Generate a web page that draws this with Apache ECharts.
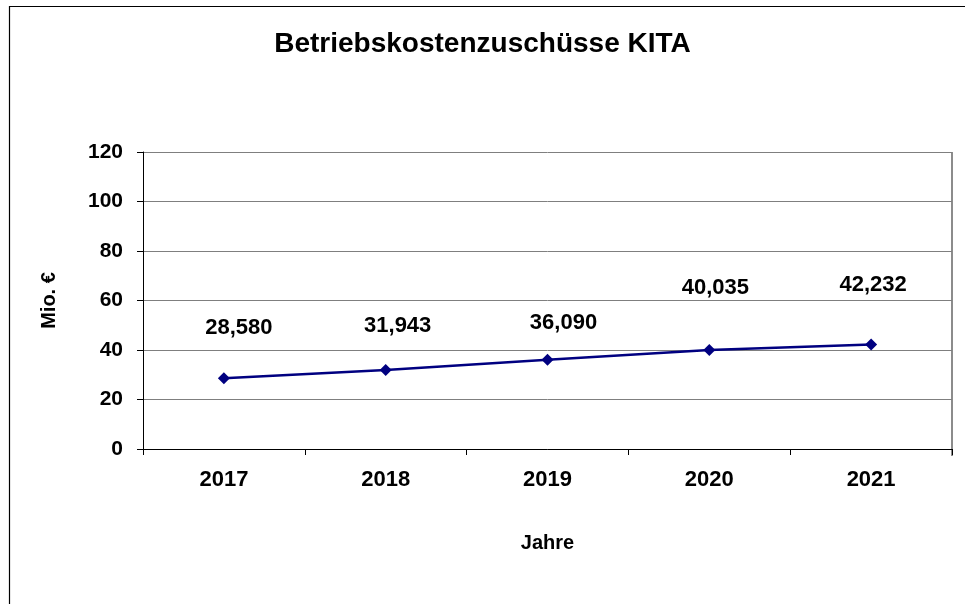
<!DOCTYPE html>
<html>
<head>
<meta charset="utf-8">
<script src="https://cdn.jsdelivr.net/npm/echarts@6/dist/echarts.min.js"></script>
<style>
html,body{margin:0;padding:0;background:#fff;}
#chart{width:965px;height:604px;}
</style>
</head>
<body>
<div id="chart"></div>
<script>
const categories = ['2017', '2018', '2019', '2020', '2021'];
const values = [28.580, 31.943, 36.090, 40.035, 42.232];
const yTicks = [0, 20, 40, 60, 80, 100, 120];
const titleText = 'Betriebskostenzuschüsse KITA';
const xName = 'Jahre';
const yName = 'Mio. €';

const FONT = '"Liberation Sans", Arial, sans-serif';
const labelOffsets = [[15, -50], [12, -44], [16, -37], [6, -62], [2, -60]];

const chart = echarts.init(document.getElementById('chart'), null, {renderer: 'canvas'});
const option = {
  backgroundColor: '#ffffff',
  animation: false,
  title: {
    text: titleText,
    left: 'center',
    top: 25,
    textStyle: {fontFamily: FONT, fontWeight: 'bold', fontSize: 28, color: '#000'}
  },
  graphic: [{
    type: 'rect',
    shape: {x: 9.5, y: 6.5, width: 2000, height: 2000},
    style: {fill: 'none', stroke: '#000', lineWidth: 1.2},
    silent: true
  }, {
    type: 'line',
    shape: {x1: 952, y1: 152, x2: 952, y2: 456},
    style: {stroke: '#8c8c8c', lineWidth: 2},
    silent: true
  }],
  grid: {left: 143, right: 13, top: 152, bottom: 155, containLabel: false},
  xAxis: {
    type: 'category',
    data: categories,
    boundaryGap: true,
    name: xName,
    nameLocation: 'middle',
    nameGap: 84,
    nameTextStyle: {fontFamily: FONT, fontWeight: 'bold', fontSize: 20, color: '#000'},
    axisLine: {show: true, lineStyle: {color: '#000', width: 1}},
    axisTick: {show: true, alignWithLabel: false, length: 6, lineStyle: {color: '#000'}},
    axisLabel: {margin: 20, fontFamily: FONT, fontWeight: 'bold', fontSize: 22, color: '#000'},
    splitLine: {show: false}
  },
  yAxis: {
    type: 'value',
    min: yTicks[0],
    max: yTicks[yTicks.length - 1],
    interval: yTicks[1] - yTicks[0],
    name: yName,
    nameLocation: 'middle',
    nameRotate: 90,
    nameGap: 84,
    nameTextStyle: {fontFamily: FONT, fontWeight: 'bold', fontSize: 20, color: '#000'},
    axisLine: {show: true, lineStyle: {color: '#000', width: 1}},
    axisTick: {show: true, length: 6, lineStyle: {color: '#000'}},
    axisLabel: {margin: 20, fontFamily: FONT, fontWeight: 'bold', fontSize: 21, color: '#000'},
    splitLine: {show: true, lineStyle: {color: '#7f7f7f', width: 1}}
  },
  series: [{
    type: 'line',
    data: values.map((v, i) => ({
      value: v,
      label: {offset: labelOffsets[i]}
    })),
    symbol: 'diamond',
    symbolSize: 12,
    lineStyle: {color: '#000080', width: 2.5},
    itemStyle: {color: '#000080'},
    label: {
      show: true,
      position: 'inside',
      fontFamily: FONT,
      fontWeight: 'bold',
      fontSize: 22,
      color: '#000',
      formatter: p => p.value.toFixed(3).replace('.', ',')
    },
    z: 5
  }]
};
chart.setOption(option);
</script>
</body>
</html>
